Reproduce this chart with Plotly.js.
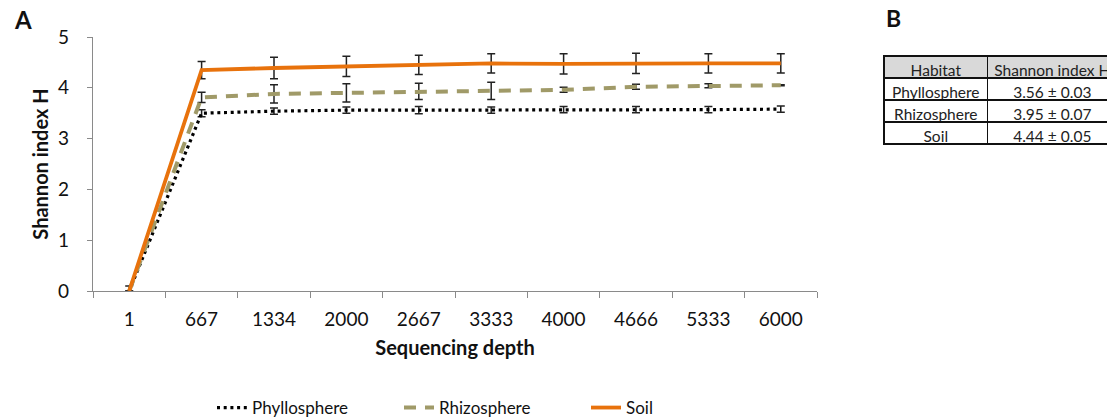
<!DOCTYPE html>
<html><head><meta charset="utf-8">
<script src="https://cdn.plot.ly/plotly-3.0.1.min.js"></script>
<style>html,body{margin:0;padding:0;overflow:hidden;background:#fff;width:1107px;height:417px}#chart{width:1125px;height:417px}</style>
</head><body><div id="chart"></div>
<script>
const depths = ['1','667','1334','2000','2667','3333','4000','4666','5333','6000'];
const phyllo = [0, 3.50, 3.54, 3.56, 3.56, 3.56, 3.57, 3.57, 3.57, 3.58];
const phylloErr = [0.10, 0.07, 0.06, 0.06, 0.07, 0.06, 0.06, 0.06, 0.06, 0.06];
const rhizo = [0, 3.81, 3.88, 3.90, 3.93, 3.94, 3.96, 4.02, 4.04, 4.05];
const rhizoErr = [0, 0.10, 0.18, 0.18, 0.16, 0.17, 0.05, 0.05, 0.04, 0.01];
const soil = [0, 4.35, 4.39, 4.42, 4.45, 4.48, 4.47, 4.48, 4.48, 4.48];
const soilErr = [0, 0.17, 0.21, 0.20, 0.19, 0.19, 0.20, 0.20, 0.19, 0.19];
const habitats = ['Phyllosphere','Rhizosphere','Soil'];
const shannonText = ['3.56 ± 0.03','3.95 ± 0.07','4.44 ± 0.05'];
const tableHeader = ['Habitat','Shannon index H'];

const W = 1125, H = 417;
const F = 'Lato, "Open Sans", sans-serif';
const nb = s => s.replace(/ /g, '\u00a0');
const errStyle = {type:'data', visible:true, color:'#222', thickness:1.5, width:4};

const traces = [
  {type:'scatter', mode:'lines', name:'Phyllosphere', x:depths, y:phyllo,
   line:{color:'#000', width:3.2, dash:'3px,3.7px'}, cliponaxis:false,
   error_y:Object.assign({array:phylloErr}, errStyle)},
  {type:'scatter', mode:'lines', name:'Rhizosphere', x:depths, y:rhizo,
   line:{color:'#a09a68', width:4, dash:'12px,9px'}, cliponaxis:false,
   error_y:Object.assign({array:rhizoErr}, errStyle)},
  {type:'scatter', mode:'lines', name:'Soil', x:depths, y:soil,
   line:{color:'#e8720c', width:3.8}, cliponaxis:false,
   error_y:Object.assign({array:soilErr}, errStyle)},
  {type:'table', domain:{x:[884/W, 1118/W], y:[0.4, 1-56/H]},
   columnwidth:[104,130],
   header:{values:tableHeader.map(nb), fill:{color:'#d9d9d9'}, line:{color:'#111', width:1.2},
           align:'center', height:22, font:{family:F, size:15.5, color:'#222'}},
   cells:{values:[habitats.map(nb), shannonText.map(nb)], fill:{color:'#fff'}, line:{color:'#111', width:1.2},
          align:'center', height:22, font:{family:F, size:15.5, color:'#222'}}}
];

const layout = {
  width:W, height:H, margin:{l:0, r:0, t:0, b:0, autoexpand:false},
  paper_bgcolor:'#fff', plot_bgcolor:'#fff',
  font:{family:F, color:'#111'},
  showlegend:true,
  xaxis:{type:'category', domain:[93/W, 817/W], range:[-0.5, 9.5],
         showline:true, linecolor:'#8a8a8a', linewidth:1.2, showgrid:false, zeroline:false,
         ticks:'outside', tickson:'boundaries', ticklen:6, tickcolor:'#8a8a8a',
         tickfont:{family:F, size:19, color:'#111'}, ticklabelstandoff:11,
         title:{text:'<b>Sequencing depth</b>', font:{family:F, size:20, color:'#111'}, standoff:12}},
  yaxis:{domain:[(H-291)/H, (H-37)/H], range:[0,5], dtick:1,
         showline:true, linecolor:'#8a8a8a', linewidth:1.2, showgrid:false, zeroline:false,
         ticks:'outside', ticklen:5, tickcolor:'#8a8a8a',
         tickfont:{family:F, size:19, color:'#111'}, ticklabelstandoff:14,
         title:{text:'<b>Shannon index H</b>', font:{family:F, size:20, color:'#111'}, standoff:4}},
  legend:{orientation:'h', x:212/W, xanchor:'left', y:9/H, yanchor:'middle',
          entrywidth:142, entrywidthmode:'pixels', font:{family:F, size:17, color:'#111'},
          bgcolor:'rgba(0,0,0,0)'},
  annotations:[
    {text:'<b>A</b>', xref:'paper', yref:'paper', x:12/W, y:1-19/H, xanchor:'left', yanchor:'middle', showarrow:false, font:{family:F, size:24, color:'#111'}},
    {text:'<b>B</b>', xref:'paper', yref:'paper', x:884/W, y:1-18/H, xanchor:'left', yanchor:'middle', showarrow:false, font:{family:F, size:23, color:'#111'}}
  ]
};
Plotly.newPlot('chart', traces, layout, {displayModeBar:false, staticPlot:true});
</script></body></html>
